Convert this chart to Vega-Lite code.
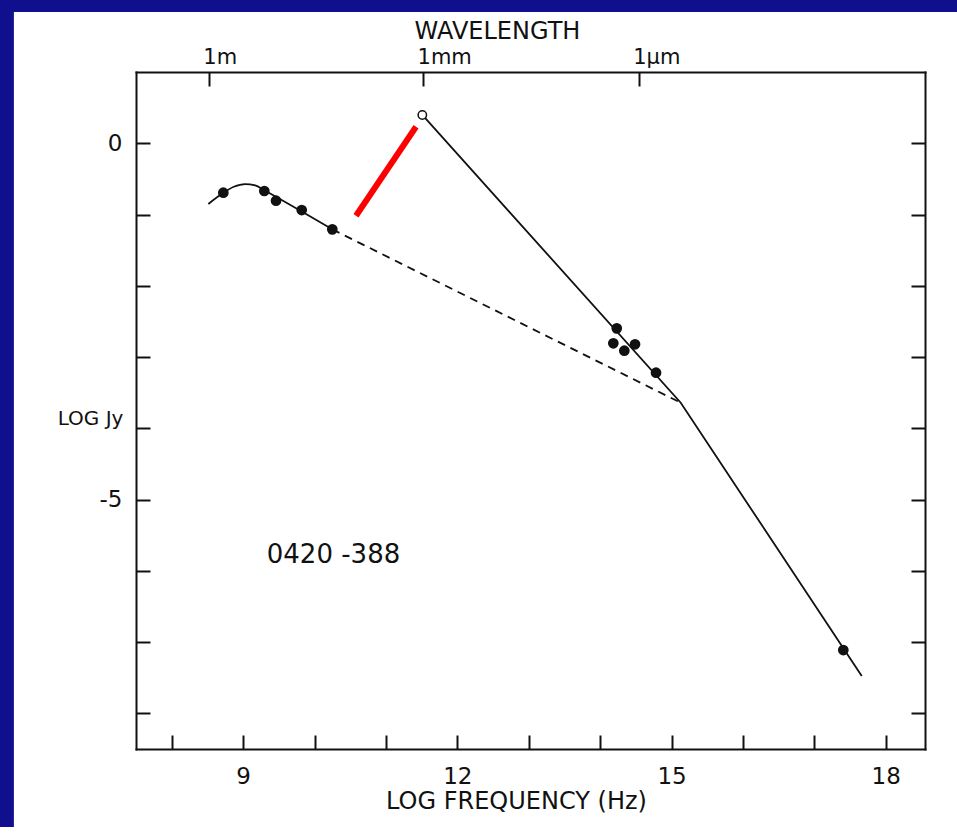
{
  "$schema": "https://vega.github.io/schema/vega-lite/v6.json",
  "autosize": {"type": "none"},
  "padding": {"left": 136, "top": 72, "right": 32, "bottom": 78},
  "width": 789,
  "height": 677,
  "background": "white",
  "config": {
    "view": {"stroke": null, "fill": null},
    "font": "DejaVu Sans",
    "axis": {"grid": false, "labelFont": "DejaVu Sans", "titleFont": "DejaVu Sans", "titleFontWeight": "normal", "labelColor": "#111", "titleColor": "#111", "domainColor": "#111", "domainWidth": 2, "domainCap": "square", "tickColor": "#111", "tickWidth": 2, "tickSize": -14, "labelFlush": false, "labelOverlap": false}
  },
  "data": {"values": [
    {"series": "radio", "nu": 8.723, "jy": -0.694},
    {"series": "radio", "nu": 9.297, "jy": -0.670},
    {"series": "radio", "nu": 9.461, "jy": -0.806},
    {"series": "radio", "nu": 9.821, "jy": -0.937},
    {"series": "radio", "nu": 10.249, "jy": -1.208},
    {"series": "ir", "nu": 14.233, "jy": -2.597},
    {"series": "ir", "nu": 14.185, "jy": -2.807},
    {"series": "ir", "nu": 14.339, "jy": -2.911},
    {"series": "ir", "nu": 14.489, "jy": -2.821},
    {"series": "ir", "nu": 14.783, "jy": -3.220},
    {"series": "xray", "nu": 17.406, "jy": -7.111},
    {"series": "mm", "nu": 11.51, "jy": 0.397},
    {"series": "curve", "nu": 8.513, "jy": -0.852},
    {"series": "curve", "nu": 8.723, "jy": -0.694},
    {"series": "curve", "nu": 8.87, "jy": -0.61},
    {"series": "curve", "nu": 9.027, "jy": -0.572},
    {"series": "curve", "nu": 9.17, "jy": -0.59},
    {"series": "curve", "nu": 9.297, "jy": -0.66},
    {"series": "curve", "nu": 10.249, "jy": -1.208},
    {"series": "dashed", "nu": 10.249, "jy": -1.208},
    {"series": "dashed", "nu": 15.129, "jy": -3.641},
    {"series": "plaw", "nu": 11.51, "jy": 0.397},
    {"series": "plaw", "nu": 15.129, "jy": -3.641},
    {"series": "plaw", "nu": 17.664, "jy": -7.476},
    {"series": "red", "nu": 10.581, "jy": -1.017},
    {"series": "red", "nu": 11.422, "jy": 0.232}
  ]},
  "encoding": {
    "x": {"field": "nu", "type": "quantitative", "scale": {"domain": [7.5, 18.55], "zero": false, "nice": false}, "axis": null},
    "y": {"field": "jy", "type": "quantitative", "scale": {"domain": [-8.5, 1.0], "zero": false, "nice": false}, "axis": null}
  },
  "layer": [
    {
      "transform": [{"filter": "datum.series === 'mm'"}],
      "mark": {"type": "rect", "color": "#10108f", "clip": false},
      "encoding": {
        "x": {"datum": 4, "type": "quantitative", "scale": {"domain": [7.5, 18.55], "zero": false, "nice": false}, "axis": null},
        "x2": {"datum": 21},
        "y": {"datum": 1.842, "type": "quantitative", "scale": {"domain": [-8.5, 1.0], "zero": false, "nice": false}, "axis": null},
        "y2": {"datum": 3.5}
      }
    },
    {
      "transform": [{"filter": "datum.series === 'mm'"}],
      "mark": {"type": "rect", "color": "#10108f", "clip": false},
      "encoding": {
        "x": {"datum": 4, "type": "quantitative", "scale": {"domain": [7.5, 18.55], "zero": false, "nice": false}, "axis": null},
        "x2": {"datum": 5.79},
        "y": {"datum": 3.5, "type": "quantitative", "scale": {"domain": [-8.5, 1.0], "zero": false, "nice": false}, "axis": null},
        "y2": {"datum": -11}
      }
    },
    {
      "transform": [{"filter": "datum.series === 'curve'"}],
      "mark": {"type": "line", "interpolate": "monotone", "color": "#111", "strokeWidth": 1.8},
      "encoding": {
        "x": {"field": "nu", "type": "quantitative", "scale": {"domain": [7.5, 18.55], "zero": false, "nice": false},
          "axis": {"orient": "bottom", "zindex": 1, "values": [8, 9, 10, 11, 12, 13, 14, 15, 16, 17, 18],
            "labelExpr": "datum.value % 3 === 0 ? datum.label : ''", "labelFontSize": 23, "labelPadding": 30,
            "title": "LOG FREQUENCY (Hz)", "titleFontSize": 24, "titleX": 380, "titleY": 52, "titleAlign": "center", "titleBaseline": "middle"}},
        "y": {"field": "jy", "type": "quantitative", "scale": {"domain": [-8.5, 1.0], "zero": false, "nice": false},
          "axis": {"orient": "left", "zindex": 1, "values": [-8, -7, -6, -5, -4, -3, -2, -1, 0],
            "labelExpr": "datum.value === 0 ? '0' : datum.value === -5 ? '-5' : ''", "labelFontSize": 23, "labelPadding": 28,
            "title": "LOG Jy", "titleFontSize": 20, "titleAngle": 0, "titleX": -46, "titleY": 346, "titleAlign": "center", "titleBaseline": "middle"}}
      }
    },
    {
      "transform": [{"filter": "datum.series === 'plaw'"}],
      "mark": {"type": "line", "color": "#111", "strokeWidth": 1.8},
      "encoding": {
        "x": {"field": "nu", "type": "quantitative", "scale": {"domain": [7.5, 18.55], "zero": false, "nice": false},
          "axis": {"orient": "top", "zindex": 1, "values": [8.52, 11.52, 14.54],
            "labelExpr": "datum.value < 10 ? '1m' : datum.value < 13 ? '1mm' : '1µm'", "labelFontSize": 21, "labelPadding": 19,
            "labelAlign": "left", "labelOffset": -6,
            "title": "WAVELENGTH", "titleFontSize": 24, "titleX": 361, "titleY": -41, "titleAlign": "center", "titleBaseline": "middle"}},
        "y": {"field": "jy", "type": "quantitative", "scale": {"domain": [-8.5, 1.0], "zero": false, "nice": false},
          "axis": {"orient": "right", "zindex": 1, "values": [-8, -7, -6, -5, -4, -3, -2, -1, 0], "labels": false, "title": null}}
      }
    },
    {
      "transform": [{"filter": "datum.series === 'dashed'"}],
      "mark": {"type": "line", "color": "#111", "strokeWidth": 1.8, "strokeDash": [8, 6]}
    },
    {
      "transform": [{"filter": "datum.series === 'red'"}],
      "mark": {"type": "line", "color": "#ff0000", "strokeWidth": 6, "strokeCap": "butt"}
    },
    {
      "transform": [{"filter": "datum.series === 'radio' || datum.series === 'ir' || datum.series === 'xray'"}],
      "mark": {"type": "circle", "color": "#111", "opacity": 1, "size": 115}
    },
    {
      "transform": [{"filter": "datum.series === 'mm'"}],
      "mark": {"type": "circle", "fill": "white", "stroke": "#111", "strokeWidth": 1.5, "opacity": 1, "size": 70}
    },
    {
      "transform": [{"filter": "datum.series === 'mm'"}],
      "mark": {"type": "text", "text": "0420 -388", "font": "DejaVu Sans", "fontSize": 26, "color": "#111", "align": "center", "baseline": "middle"},
      "encoding": {
        "x": {"datum": 10.266, "type": "quantitative", "scale": {"domain": [7.5, 18.55], "zero": false, "nice": false}, "axis": null},
        "y": {"datum": -5.778, "type": "quantitative", "scale": {"domain": [-8.5, 1.0], "zero": false, "nice": false}, "axis": null}
      }
    }
  ],
  "resolve": {"axis": {"x": "independent", "y": "independent"}}
}
